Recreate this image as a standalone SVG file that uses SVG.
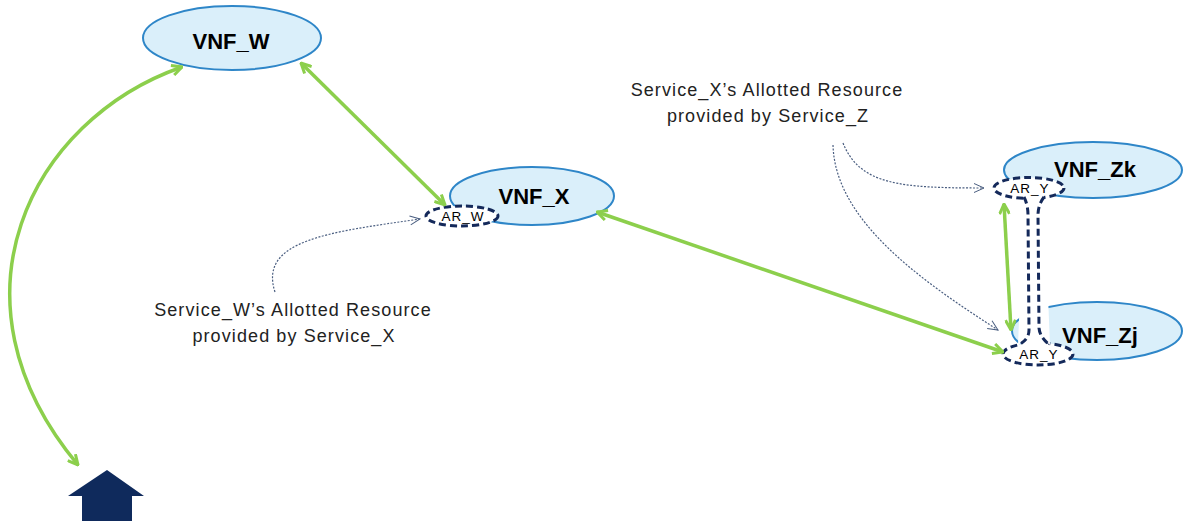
<svg xmlns="http://www.w3.org/2000/svg" width="1189" height="521" viewBox="0 0 1189 521">
<style>
.vnf{fill:#DAEFFA;stroke:#2E86C8;stroke-width:2}
.ar{fill:#FFFFFF;stroke:#14295A;stroke-width:3;stroke-dasharray:7 4}
.lbl{font-family:"Liberation Sans",Arial,sans-serif;font-weight:bold;font-size:22px;fill:#000;text-anchor:middle}
.arl{font-family:"Liberation Sans",Arial,sans-serif;font-size:13.5px;letter-spacing:1px;fill:#000;text-anchor:middle}
.note{font-family:"Liberation Sans",Arial,sans-serif;font-size:18px;letter-spacing:1.1px;fill:#222;text-anchor:middle}
.g{fill:none;stroke:#8CCF4C;stroke-width:3.5;marker-start:url(#ga);marker-end:url(#ga)}
.d{fill:none;stroke:#4A5E80;stroke-width:1.2;stroke-dasharray:2 1.5;marker-end:url(#da)}
</style>
<defs>
<marker id="ga" viewBox="0 0 12 12" refX="11" refY="6" markerWidth="12" markerHeight="12" markerUnits="userSpaceOnUse" orient="auto-start-reverse">
<path d="M1,1 L11,6 L1,11" fill="none" stroke="#8CCF4C" stroke-width="3"/>
</marker>
<marker id="da" viewBox="0 0 12 12" refX="11" refY="6" markerWidth="12" markerHeight="12" markerUnits="userSpaceOnUse" orient="auto">
<path d="M1,1.5 L11,6 L1,10.5" fill="none" stroke="#4A5E80" stroke-width="1"/>
</marker>
</defs>
<rect width="1189" height="521" fill="#FFFFFF"/>

<g id="house">
<polygon points="107,470 144,496 132,496 132,521 82,521 82,496 68,496" fill="#0F2A5C"/>
</g>

<g id="VNF_W">
<ellipse class="vnf" cx="232" cy="38" rx="89" ry="32"/>
<text class="lbl" x="231" y="49">VNF_W</text>
</g>

<g id="VNF_X">
<ellipse class="vnf" cx="532" cy="196" rx="82" ry="29"/>
<text class="lbl" x="534" y="204">VNF_X</text>
</g>

<g id="VNF_Zk">
<ellipse class="vnf" cx="1093" cy="170" rx="89" ry="28"/>
<text class="lbl" x="1095" y="177">VNF_Zk</text>
</g>

<g id="VNF_Zj">
<ellipse class="vnf" cx="1097" cy="331" rx="85" ry="29"/>
<text class="lbl" x="1100" y="343">VNF_Zj</text>
</g>

<g id="AR_W">
<ellipse class="ar" cx="462" cy="216" rx="36" ry="10"/>
<text class="arl" x="463" y="221">AR_W</text>
</g>

<g id="AR_Y_k">
<ellipse class="ar" cx="1029" cy="188" rx="35" ry="10.5"/>
</g>

<g id="AR_Y_j">
<ellipse class="ar" cx="1038" cy="354" rx="35" ry="11"/>
</g>

<g id="AR_Y_link">
<path d="M1024,196 Q1028,205 1028,215 L1029,330 Q1029,340 1018,346 L1050,346 Q1040,338 1039,328 L1038,215 Q1038,205 1044,196 Z" fill="#FFFFFF" stroke="none"/>
<path d="M1024,197 Q1028,205 1028,215 L1029,330 Q1029,340 1018,345" class="ar" fill="none"/>
<path d="M1044,197 Q1038,205 1038,215 L1039,328 Q1040,338 1050,345" class="ar" fill="none"/>
<text class="arl" x="1030" y="193">AR_Y</text>
<text class="arl" x="1039" y="359">AR_Y</text>
</g>

<g id="connectors">
<path class="g" d="M182,67 C30,120 -60,300 78,465"/>
<path class="g" d="M301,63 L445,205"/>
<path class="g" d="M597,212 L1003,352"/>
<path class="g" d="M1004,204 L1011,330"/>
<path class="d" d="M275,292 C258,240 330,232 420,219"/>
<path class="d" d="M843,143 C860,185 900,188 984,188"/>
<path class="d" d="M833,145 C835,220 920,280 998,330"/>
</g>

<g id="notes">
<text class="note" x="293" y="316">Service_W’s Allotted Resource</text>
<text class="note" x="294" y="342">provided by Service_X</text>
<text class="note" x="767" y="96">Service_X’s Allotted Resource</text>
<text class="note" x="768" y="122">provided by Service_Z</text>
</g>
</svg>
